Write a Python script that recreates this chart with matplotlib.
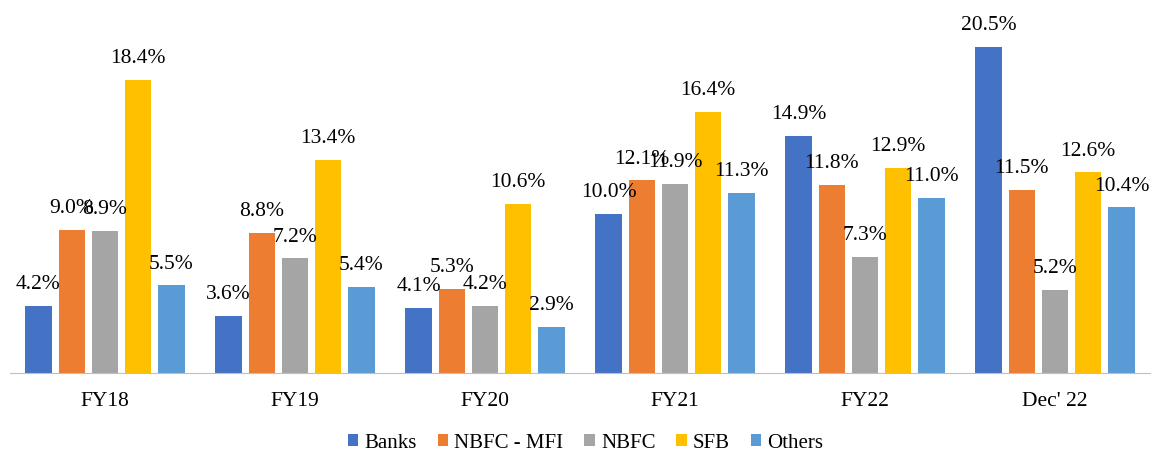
import numpy as np
import matplotlib.pyplot as plt

plt.rcParams['font.family'] = ['Liberation Serif', 'DejaVu Serif']

periods = ["FY18", "FY19", "FY20", "FY21", "FY22", "Dec' 22"]
series = ["Banks", "NBFC - MFI", "NBFC", "SFB", "Others"]
banks = [4.2, 3.6, 4.1, 10.0, 14.9, 20.5]
nbfc_mfi = [9.0, 8.8, 5.3, 12.1, 11.8, 11.5]
nbfc = [8.9, 7.2, 4.2, 11.9, 7.3, 5.2]
sfb = [18.4, 13.4, 10.6, 16.4, 12.9, 12.6]
others = [5.5, 5.4, 2.9, 11.3, 11.0, 10.4]
values = [banks, nbfc_mfi, nbfc, sfb, others]
colors = ["#4472C4", "#ED7D31", "#A5A5A5", "#FFC000", "#5B9BD5"]

fig = plt.figure(figsize=(11.53, 4.54), dpi=100)
ax = fig.add_axes([10/1153, 81/454, 1140/1153, 363/454])

x = np.arange(len(periods))
pitch = 0.175
width = 0.137
for i, (name, vals, c) in enumerate(zip(series, values, colors)):
    pos = x + (i - 2) * pitch
    bars = ax.bar(pos, vals, width, color=c, label=name)
    for b, v in zip(bars, vals):
        ax.annotate(f"{v:.1f}%", (b.get_x() + b.get_width() / 2, v),
                    xytext=(0, 8.5), textcoords="offset points",
                    ha="center", va="bottom", fontsize=15.5)

ax.set_xlim(-0.5, len(periods) - 0.5)
ax.set_ylim(0, 22.8)
ax.set_xticks(x)
ax.set_xticklabels(periods, fontsize=15.5)
ax.tick_params(axis="x", length=0, pad=14)
ax.set_yticks([])
for s in ["top", "right", "left"]:
    ax.spines[s].set_visible(False)
ax.spines["bottom"].set_color("#BFBFBF")

fig.legend(loc="lower center", bbox_to_anchor=(0.508, -0.038), ncol=5, frameon=False,
           fontsize=15, handlelength=0.5, handleheight=0.5, handletextpad=0.3,
           columnspacing=1.0)

fig.savefig("out.png", dpi=100)
